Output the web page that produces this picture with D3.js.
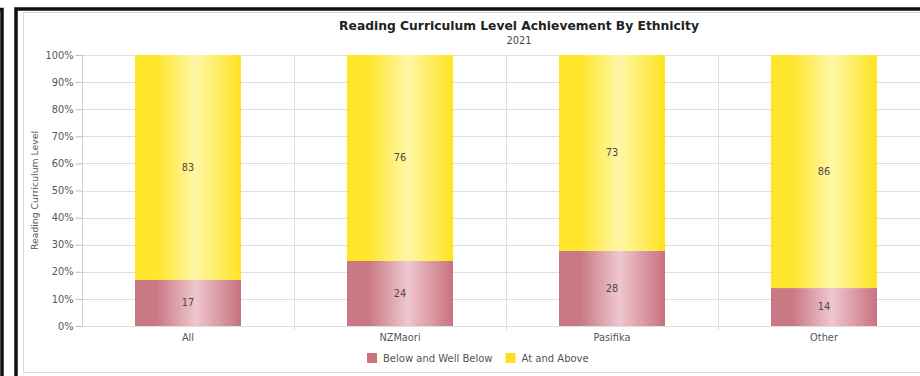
<!DOCTYPE html>
<html>
<head>
<meta charset="utf-8">
<script src="https://cdn.jsdelivr.net/npm/d3@7/dist/d3.min.js"></script>
<style>
  html, body { margin: 0; padding: 0; background: #fff; }
  svg { display: block; font-family: "DejaVu Sans", Verdana, sans-serif; }
</style>
</head>
<body>
<svg id="chart" width="920" height="376"></svg>
<script>
// Reading achievement by ethnicity, 2021 (percent of students)
const categories = ["All", "NZMaori", "Pasifika", "Other"];
const belowValues = [17, 24, 28, 14];   // Below and Well Below
const aboveValues = [83, 76, 73, 86];   // At and Above
const seriesNames = ["Below and Well Below", "At and Above"];
const yTicks = [0, 10, 20, 30, 40, 50, 60, 70, 80, 90, 100];

const svg = d3.select("#chart");

// Panel frames
svg.append("rect").attr("x", -20).attr("y", 9.5).attr("width", 22).attr("height", 400)
  .attr("fill", "none").attr("stroke", "#111").attr("stroke-width", 3.5);
svg.append("rect").attr("x", 16).attr("y", 9).attr("width", 1000).attr("height", 400)
  .attr("fill", "#fff").attr("stroke", "#111").attr("stroke-width", 3.5);
svg.append("rect").attr("x", 23.5).attr("y", 12.5).attr("width", 1000).attr("height", 360)
  .attr("fill", "#fff").attr("stroke", "#dcdcdc").attr("stroke-width", 1);

// Gradients for the column fills
const defs = svg.append("defs");
function gradient(id, edge, light, edgeR) {
  const g = defs.append("linearGradient").attr("id", id)
    .attr("x1", "0%").attr("x2", "100%").attr("y1", "0%").attr("y2", "0%");
  g.append("stop").attr("offset", "0%").attr("stop-color", edge);
  g.append("stop").attr("offset", "20%").attr("stop-color", edge);
  g.append("stop").attr("offset", "57%").attr("stop-color", light);
  g.append("stop").attr("offset", "100%").attr("stop-color", edgeR);
}
gradient("gBelow", "#c97983", "#efc6cf", "#c8727e");
gradient("gAbove", "#ffe62a", "#fff6a6", "#ffe420");
const fills = ["url(#gBelow)", "url(#gAbove)"];
const legendColors = ["#c8737e", "#ffdf1f"];

const plot = { left: 82, right: 930, top: 55, bottom: 326 };

const xCell = d3.scaleBand().domain(categories).range([plot.left, plot.right]).padding(0);
const y = d3.scaleLinear().domain([0, 100]).range([plot.bottom, plot.top]);

// Horizontal gridlines
svg.append("g").selectAll("line").data(yTicks).join("line")
  .attr("x1", plot.left).attr("x2", plot.right)
  .attr("y1", d => Math.round(y(d)) + 0.5).attr("y2", d => Math.round(y(d)) + 0.5)
  .attr("stroke", "#dedede").attr("stroke-width", 1);

// Vertical separators between categories
svg.append("g").selectAll("line").data(categories.slice(1)).join("line")
  .attr("x1", d => Math.round(xCell(d)) + 0.5).attr("x2", d => Math.round(xCell(d)) + 0.5)
  .attr("y1", plot.top).attr("y2", plot.bottom + 4)
  .attr("stroke", "#dedede").attr("stroke-width", 1);

// Y axis
const yAxis = d3.axisLeft(y).tickValues(yTicks).tickFormat(d => d + "%").tickSize(7).tickPadding(2);
const yg = svg.append("g").attr("transform", `translate(${plot.left + 0.5},0)`).call(yAxis);
yg.select(".domain").attr("stroke", "#d0d0d0").attr("d", `M0,${plot.top}V${plot.bottom}`);
yg.selectAll(".tick line").attr("stroke", "#bdbdbd");
yg.selectAll(".tick text").attr("fill", "#555").attr("font-size", "9.8px")
  .attr("font-family", "\"DejaVu Sans\", Verdana, sans-serif");

// X axis labels
const xg = svg.append("g").attr("transform", `translate(0,${plot.bottom})`)
  .call(d3.axisBottom(xCell).tickSize(0).tickPadding(8));
xg.select(".domain").remove();
xg.selectAll(".tick text").attr("fill", "#555").attr("font-size", "9.8px")
  .attr("font-family", "\"DejaVu Sans\", Verdana, sans-serif");

// Stacked, normalised to 100%
const rows = categories.map((c, i) => ({ cat: c, below: belowValues[i], above: aboveValues[i] }));
const stack = d3.stack().keys(["below", "above"]).offset(d3.stackOffsetExpand);
const layers = stack(rows);
const barW = xCell.bandwidth() * 0.5;

layers.forEach((layer, li) => {
  const g = svg.append("g");
  g.selectAll("rect").data(layer).join("rect")
    .attr("x", d => xCell(d.data.cat) + (xCell.bandwidth() - barW) / 2)
    .attr("width", barW)
    .attr("y", d => y(d[1] * 100))
    .attr("height", d => y(d[0] * 100) - y(d[1] * 100))
    .attr("fill", fills[li]);
  g.selectAll("text").data(layer).join("text")
    .attr("x", d => xCell(d.data.cat) + xCell.bandwidth() / 2)
    .attr("y", d => (y(d[0] * 100) + y(d[1] * 100)) / 2)
    .attr("dy", "0.35em")
    .attr("text-anchor", "middle")
    .attr("fill", "#4a4a4a").attr("font-size", "9.8px")
    .text(d => d.data[layer.key]);
});

// Titles
svg.append("text").attr("x", 519).attr("y", 30).attr("text-anchor", "middle")
  .attr("font-size", "12.3px").attr("font-weight", "bold").attr("fill", "#222")
  .text("Reading Curriculum Level Achievement By Ethnicity");
svg.append("text").attr("x", 519).attr("y", 44).attr("text-anchor", "middle")
  .attr("font-size", "9.8px").attr("fill", "#444").text("2021");

svg.append("text")
  .attr("transform", `translate(38,${(plot.top + plot.bottom) / 2}) rotate(-90)`)
  .attr("text-anchor", "middle").attr("font-size", "9.3px").attr("fill", "#555")
  .text("Reading Curriculum Level");

// Legend
const legend = svg.append("g").attr("transform", "translate(367,353)");
let lx = 0;
seriesNames.forEach((name, i) => {
  const item = legend.append("g").attr("transform", `translate(${lx},0)`);
  item.append("rect").attr("width", 10).attr("height", 10).attr("fill", legendColors[i]);
  const t = item.append("text").attr("x", 16).attr("y", 5).attr("dy", "0.35em")
    .attr("font-size", "10px").attr("fill", "#555").text(name);
  lx += 16 + t.node().getComputedTextLength() + 13;
});
</script>
</body>
</html>
